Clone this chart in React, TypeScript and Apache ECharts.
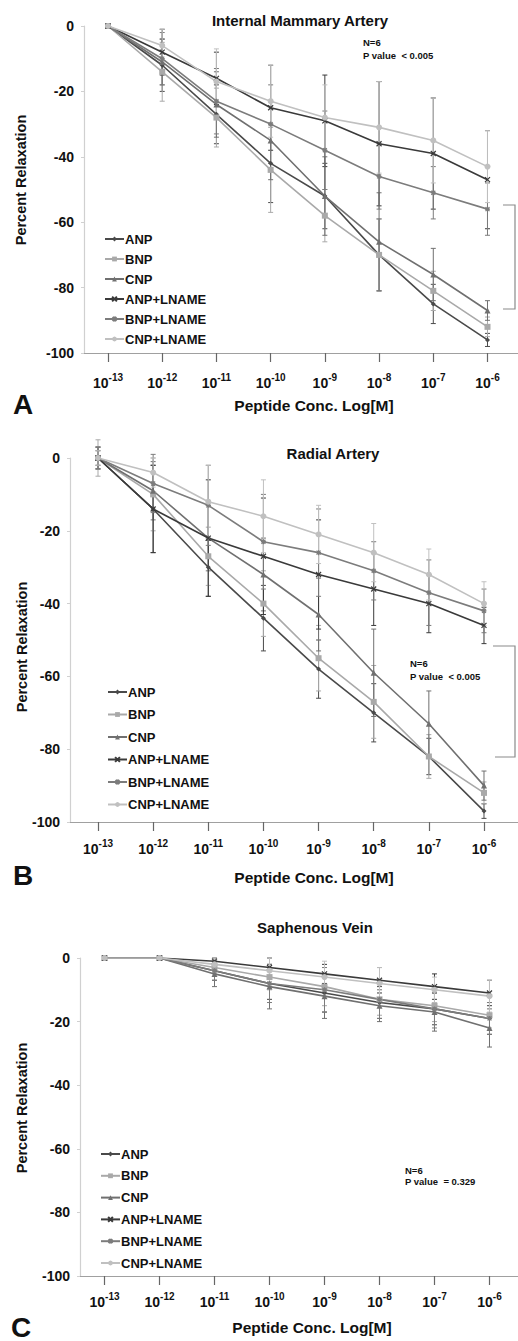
import React, { useEffect, useRef } from "react";
import * as echarts from "echarts";

// ---------- data ----------
const exponents = [-13, -12, -11, -10, -9, -8, -7, -6];
const seriesNames = ["ANP", "BNP", "CNP", "ANP+LNAME", "BNP+LNAME", "CNP+LNAME"];
const yTicks = [0, -20, -40, -60, -80, -100];

// Panel A: Internal Mammary Artery (mean % relaxation)
const imaANP = [0, -12, -27, -42, -52, -70, -85, -96];
const imaBNP = [0, -14, -28, -44, -58, -70, -81, -92];
const imaCNP = [0, -11, -24, -35, -52, -66, -76, -87];
const imaANPL = [0, -8, -16, -25, -29, -36, -39, -47];
const imaBNPL = [0, -10, -23, -30, -38, -46, -51, -56];
const imaCNPL = [0, -6, -17, -23, -28, -31, -35, -43];
// error half-widths
const imaANPe = [0, 8, 9, 12, 10, 11, 6, 2];
const imaBNPe = [0, 9, 9, 13, 8, 11, 6, 3];
const imaCNPe = [0, 7, 10, 12, 12, 15, 8, 3];
const imaANPLe = [0, 7, 8, 13, 14, 19, 17, 15];
const imaBNPLe = [0, 8, 10, 12, 12, 10, 8, 8];
const imaCNPLe = [0, 5, 10, 11, 10, 14, 13, 11];

// Panel B: Radial Artery
const raANP = [0, -14, -30, -44, -58, -70, -82, -97];
const raBNP = [0, -10, -27, -40, -55, -67, -82, -92];
const raCNP = [0, -9, -22, -32, -43, -59, -73, -90];
const raANPL = [0, -14, -22, -27, -32, -36, -40, -46];
const raBNPL = [0, -7, -13, -23, -26, -31, -37, -42];
const raCNPL = [0, -4, -12, -16, -21, -26, -32, -40];
const raANPe = [3, 12, 8, 9, 8, 8, 5, 2];
const raBNPe = [5, 10, 8, 9, 9, 10, 6, 3];
const raCNPe = [3, 8, 9, 10, 10, 12, 9, 4];
const raANPLe = [2, 12, 16, 16, 15, 10, 8, 5];
const raBNPLe = [3, 8, 11, 13, 12, 8, 9, 6];
const raCNPLe = [2, 4, 10, 10, 8, 8, 7, 6];

// Panel C: Saphenous Vein
const svANP = [0, 0, -4, -8, -11, -14, -16, -19];
const svBNP = [0, 0, -3, -6, -9, -13, -15, -18];
const svCNP = [0, 0, -5, -9, -12, -15, -17, -22];
const svANPL = [0, 0, -1, -3, -5, -7, -9, -11];
const svBNPL = [0, 0, -4, -8, -10, -13, -16, -19];
const svCNPL = [0, 0, -2, -4, -6, -8, -10, -12];
const svANPe = [0, 0, 3, 5, 6, 5, 5, 5];
const svBNPe = [0, 0, 2, 4, 6, 5, 5, 4];
const svCNPe = [0, 0, 4, 7, 7, 5, 6, 6];
const svANPLe = [0, 0, 1, 3, 3, 4, 4, 4];
const svBNPLe = [0, 0, 3, 6, 7, 6, 6, 5];
const svCNPLe = [0, 0, 2, 4, 5, 5, 4, 5];

const panelTitles = ["Internal Mammary Artery", "Radial Artery", "Saphenous Vein"];
const panelLetters = ["A", "B", "C"];
const nText = "N=6";
const pTexts = ["P value  < 0.005", "P value  < 0.005", "P value  = 0.329"];
const xName = "Peptide Conc. Log[M]";
const yName = "Percent Relaxation";

const panelMeans = [
  [imaANP, imaBNP, imaCNP, imaANPL, imaBNPL, imaCNPL],
  [raANP, raBNP, raCNP, raANPL, raBNPL, raCNPL],
  [svANP, svBNP, svCNP, svANPL, svBNPL, svCNPL],
];
const panelErrs = [
  [imaANPe, imaBNPe, imaCNPe, imaANPLe, imaBNPLe, imaCNPLe],
  [raANPe, raBNPe, raCNPe, raANPLe, raBNPLe, raCNPLe],
  [svANPe, svBNPe, svCNPe, svANPLe, svBNPLe, svCNPLe],
];

// ---------- styles ----------
const FONT = "'Liberation Sans', Arial, Helvetica, sans-serif";
const seriesColors = ["#4a4a4a", "#a9a9a9", "#707070", "#3a3a3a", "#7c7c7c", "#c0c0c0"];
const seriesSymbols = [
  "diamond",
  "rect",
  "triangle",
  "path://M0,0L10,10M10,0L0,10",
  "path://M5,0L5,10M0,5L10,5M1,1L9,9M9,1L1,9",
  "circle",
];
const symbolSizes = [5, 6, 6, 5, 5, 6];

const grids = [
  { left: 84, top: 26, width: 434, height: 327 },
  { left: 70, top: 458, width: 448, height: 364 },
  { left: 80, top: 958, width: 438, height: 318 },
];
const xRanges = [
  [-13.4427, -5.4374],
  [-13.5078, -5.3834],
  [-13.4455, -5.4818],
];
const xLabelMargins = [19, 16, 15];
const legendPos = [
  { left: 104, top: 232.5, gap: 7 },
  { left: 107, top: 685.5, gap: 9.5 },
  { left: 100, top: 1147.5, gap: 8.8 },
];

export default function App() {
  const ref = useRef<HTMLDivElement>(null);
  useEffect(() => {
    document.body.style.margin = "0";
    if (!ref.current) return;
    const chart = echarts.init(ref.current, null, { renderer: "svg" });

    const xAxes: any[] = [];
    const yAxes: any[] = [];
    const series: any[] = [];
    const legends: any[] = [];

    for (let p = 0; p < 3; p++) {
      xAxes.push({
        type: "value",
        gridIndex: p,
        min: xRanges[p][0],
        max: xRanges[p][1],
        axisLine: { show: true, onZero: false, lineStyle: { color: "#a0a0a0", width: 1.2 } },
        axisTick: { show: true, customValues: exponents, length: 9, lineStyle: { color: "#666", width: 1.2 } },
        splitLine: { show: false },
        axisLabel: {
          customValues: exponents,
          margin: xLabelMargins[p],
          formatter: (v: number) => `{b|10}{s|${v}}`,
          rich: {
            b: { fontSize: 14, fontWeight: "bold", fontFamily: FONT, color: "#111", verticalAlign: "bottom", lineHeight: 18 },
            s: { fontSize: 10, fontWeight: "bold", fontFamily: FONT, color: "#111", verticalAlign: "top", lineHeight: 18, padding: [0, 0, 8, 0] },
          },
        },
      });
      yAxes.push({
        type: "value",
        gridIndex: p,
        min: -100,
        max: 0,
        interval: 20,
        axisLine: { show: true, onZero: false, lineStyle: { color: "#d0d0d0", width: 1.2 } },
        axisTick: { show: true, length: 3, lineStyle: { color: "#d0d0d0" } },
        splitLine: { show: false },
        axisLabel: {
          margin: 10,
          fontSize: 14,
          fontWeight: "bold",
          fontFamily: FONT,
          color: "#111",
          customValues: yTicks,
        },
      });

      for (let s = 0; s < seriesNames.length; s++) {
        const means = panelMeans[p][s];
        const errs = panelErrs[p][s];
        const color = seriesColors[s];
        series.push({
          type: "custom",
          name: `${seriesNames[s]} error ${panelLetters[p]}`,
          xAxisIndex: p,
          yAxisIndex: p,
          silent: true,
          z: 1,
          data: exponents.map((x, i) => [x, means[i] - errs[i], means[i] + errs[i]]),
          renderItem: (params: any, api: any) => {
            const x = api.value(0);
            const lo = api.coord([x, api.value(1)]);
            const hi = api.coord([x, api.value(2)]);
            const w = 2.5;
            const st = { stroke: color, lineWidth: 1 };
            return {
              type: "group",
              children: [
                { type: "line", shape: { x1: lo[0], y1: lo[1], x2: hi[0], y2: hi[1] }, style: st },
                { type: "line", shape: { x1: lo[0] - w, y1: lo[1], x2: lo[0] + w, y2: lo[1] }, style: st },
                { type: "line", shape: { x1: hi[0] - w, y1: hi[1], x2: hi[0] + w, y2: hi[1] }, style: st },
              ],
            };
          },
        });
        series.push({
          type: "line",
          name: seriesNames[s],
          xAxisIndex: p,
          yAxisIndex: p,
          z: 3,
          data: exponents.map((x, i) => [x, means[i]]),
          symbol: seriesSymbols[s],
          symbolSize: symbolSizes[s],
          showSymbol: true,
          lineStyle: { color, width: 1.6 },
          itemStyle: { color, borderColor: color, borderWidth: s === 3 || s === 4 ? 1.2 : 0 },
          emphasis: { disabled: true },
        });
      }

      legends.push({
        data: seriesNames,
        orient: "vertical",
        left: legendPos[p].left,
        top: legendPos[p].top,
        itemGap: legendPos[p].gap,
        itemWidth: 19,
        itemHeight: 6,
        padding: 0,
        selectedMode: false,
        textStyle: { fontSize: 13, fontWeight: "bold", fontFamily: FONT, color: "#111", lineHeight: 13, padding: [0, 0, 0, -4] },
      });
    }

    const textStyle = (text: string, size: number, weight = "bold", align = "center") => ({
      text,
      fill: "#111",
      font: `${weight} ${size}px ${FONT}`,
      align,
      verticalAlign: "middle",
    });

    const titlePos = [
      [300, 20],
      [333, 453],
      [315, 927],
    ];
    const xNamePos = [
      [314, 405],
      [314, 877],
      [312, 1327],
    ];
    const yNamePos = [
      [21, 180],
      [22, 647],
      [22, 1108],
    ];
    const letterPos = [
      [13, 404],
      [13, 875],
      [11, 1327],
    ];
    const nPos = [
      [363, 42.5, 55],
      [410, 663, 676],
      [405, 1170, 1181],
    ];
    const brackets = [
      [[503, 205], [515, 205], [515, 309], [503, 309]],
      [[493, 646], [515, 646], [515, 757], [495, 757]],
    ];

    const graphics: any[] = [];
    for (let p = 0; p < 3; p++) {
      graphics.push({ type: "text", x: titlePos[p][0], y: titlePos[p][1], style: textStyle(panelTitles[p], 15) });
      graphics.push({ type: "text", x: xNamePos[p][0], y: xNamePos[p][1], style: textStyle(xName, 15.5) });
      graphics.push({
        type: "text",
        x: yNamePos[p][0],
        y: yNamePos[p][1],
        rotation: Math.PI / 2,
        style: textStyle(yName, 14.5),
      });
      graphics.push({ type: "text", x: letterPos[p][0], y: letterPos[p][1], style: textStyle(panelLetters[p], 28, "bold", "left") });
      graphics.push({ type: "text", x: nPos[p][0], y: nPos[p][1], style: textStyle(nText, 9.5, "bold", "left") });
      graphics.push({ type: "text", x: nPos[p][0], y: nPos[p][2], style: textStyle(pTexts[p], 9.5, "bold", "left") });
    }
    for (const b of brackets) {
      graphics.push({ type: "polyline", shape: { points: b }, style: { stroke: "#8a8a8a", lineWidth: 1.2, fill: null } });
    }

    chart.setOption({
      animation: false,
      backgroundColor: "#fff",
      grid: grids,
      xAxis: xAxes,
      yAxis: yAxes,
      legend: legends,
      series,
      graphic: graphics,
    });
    return () => chart.dispose();
  }, []);
  return <div ref={ref} style={{ width: 518, height: 1341 }} />;
}
